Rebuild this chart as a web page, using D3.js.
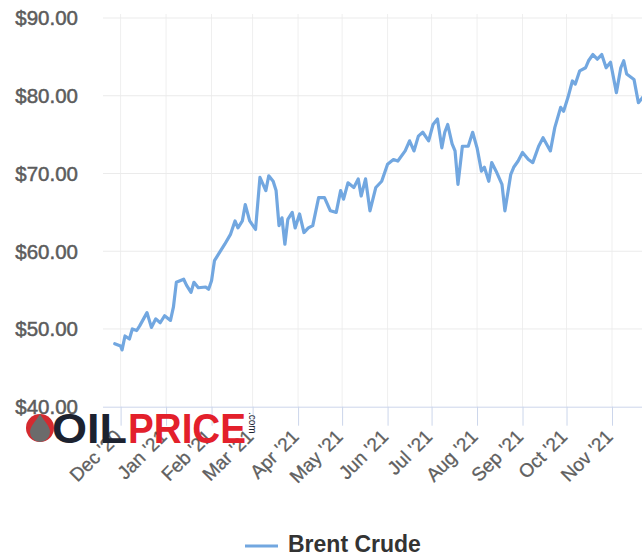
<!DOCTYPE html>
<html>
<head>
<meta charset="utf-8">
<script src="https://cdnjs.cloudflare.com/ajax/libs/d3/7.8.5/d3.min.js"></script>
<style>
  html, body { margin: 0; padding: 0; background: #ffffff; }
  svg { display: block; font-family: "Liberation Sans", Arial, sans-serif; }
</style>
</head>
<body>
<svg id="chart" width="642" height="555"></svg>
<script>
// ---- Data ----
const seriesName = "Brent Crude";
const dates = [
  "2020-11-27","2020-12-01","2020-12-02","2020-12-04","2020-12-07","2020-12-09","2020-12-12","2020-12-14",
  "2020-12-19","2020-12-22","2020-12-25","2020-12-28","2020-12-31","2021-01-04","2021-01-06","2021-01-08",
  "2021-01-13","2021-01-15","2021-01-18","2021-01-20","2021-01-23","2021-01-28","2021-01-30","2021-02-01",
  "2021-02-03","2021-02-10","2021-02-14","2021-02-17","2021-02-19","2021-02-22","2021-02-24","2021-02-27",
  "2021-03-03","2021-03-06","2021-03-10","2021-03-12","2021-03-15","2021-03-17","2021-03-19","2021-03-21",
  "2021-03-23","2021-03-25","2021-03-28","2021-03-30","2021-04-02","2021-04-05","2021-04-08","2021-04-11",
  "2021-04-15","2021-04-19","2021-04-23","2021-04-27","2021-04-30","2021-05-02","2021-05-05","2021-05-09",
  "2021-05-12","2021-05-14","2021-05-17","2021-05-20","2021-05-24","2021-05-28","2021-06-01","2021-06-05",
  "2021-06-08","2021-06-13","2021-06-16","2021-06-19","2021-06-22","2021-06-25","2021-06-29","2021-07-02",
  "2021-07-05","2021-07-08","2021-07-10","2021-07-12","2021-07-15","2021-07-17","2021-07-19","2021-07-22",
  "2021-07-26","2021-07-29","2021-08-01","2021-08-04","2021-08-06","2021-08-09","2021-08-11","2021-08-14",
  "2021-08-18","2021-08-20","2021-08-24","2021-08-26","2021-08-29","2021-09-01","2021-09-05","2021-09-08",
  "2021-09-12","2021-09-15","2021-09-20","2021-09-23","2021-09-27","2021-09-29","2021-10-02","2021-10-05",
  "2021-10-07","2021-10-10","2021-10-14","2021-10-16","2021-10-19","2021-10-22","2021-10-25","2021-10-28",
  "2021-10-31","2021-11-04","2021-11-07","2021-11-09","2021-11-11","2021-11-16","2021-11-19","2021-11-22"
];
const prices = [
  48.1, 47.8, 47.3, 49.1, 48.7, 50.0, 49.8, 50.4,
  52.1, 50.2, 51.3, 50.8, 51.7, 51.1, 52.8, 56.0,
  56.4, 55.6, 54.7, 56.0, 55.3, 55.4, 55.1, 56.2,
  58.8, 60.9, 62.2, 63.9, 63.0, 63.9, 66.0, 63.9,
  62.8, 69.5, 67.8, 69.7, 69.0, 67.8, 63.3, 64.3,
  60.9, 64.1, 65.0, 63.0, 64.8, 62.4, 63.0, 63.3,
  66.9, 66.9, 65.2, 65.0, 67.8, 66.7, 68.8, 68.2,
  69.3, 67.1, 69.3, 65.2, 68.2, 69.0, 71.2, 71.8,
  71.6, 72.9, 74.2, 72.9, 74.8, 75.3, 74.2, 76.3,
  77.0, 73.3, 75.3, 76.3, 73.8, 72.9, 68.6, 73.5,
  73.5, 75.3, 73.3, 70.3, 70.8, 69.0, 71.4, 70.3,
  68.6, 65.2, 69.9, 70.8, 71.6, 72.7, 71.8, 71.4,
  73.5, 74.6, 72.9, 75.9, 78.5, 78.0, 79.8, 81.9,
  81.5, 83.2, 83.6, 84.5, 85.3, 84.7, 85.3, 83.6,
  84.3, 80.4, 83.6, 84.5, 82.8, 82.1, 79.1, 79.8
];
const tickDates = ["2020-12-01","2021-01-01","2021-02-01","2021-03-01","2021-04-01","2021-05-01",
                   "2021-06-01","2021-07-01","2021-08-01","2021-09-01","2021-10-01","2021-11-01"];
const tickLabels = ["Dec '20","Jan '21","Feb '21","Mar '21","Apr '21","May '21",
                    "Jun '21","Jul '21","Aug '21","Sep '21","Oct '21","Nov '21"];
const yTicks = [40, 50, 60, 70, 80, 90];
const yTickLabels = ["$40.00","$50.00","$60.00","$70.00","$80.00","$90.00"];

// ---- Layout ----
const plot = { left: 103, right: 656, top: 18, bottom: 406.7 };
const parse = d3.timeParse("%Y-%m-%d");
const data = dates.map((d, i) => ({ date: parse(d), value: prices[i] }));

const x = d3.scaleTime()
  .domain([parse("2020-11-19"), parse("2021-12-01")])
  .range([plot.left, plot.right]);
const y = d3.scaleLinear().domain([40, 90]).range([plot.bottom, plot.top]);

const svg = d3.select("#chart");

// vertical gridlines
svg.append("g").selectAll("line")
  .data(tickDates).join("line")
  .attr("x1", d => x(parse(d))).attr("x2", d => x(parse(d)))
  .attr("y1", plot.top - 4).attr("y2", plot.bottom)
  .attr("stroke", "#efefef").attr("stroke-width", 1);

// horizontal gridlines
svg.append("g").selectAll("line")
  .data(yTicks.filter(v => v > 40)).join("line")
  .attr("x1", plot.left).attr("x2", plot.right)
  .attr("y1", d => y(d)).attr("y2", d => y(d))
  .attr("stroke", "#ebebeb").attr("stroke-width", 1);

// x axis (line + ticks) via d3.axisBottom
const xAxis = d3.axisBottom(x)
  .tickValues(tickDates.map(parse))
  .tickSize(19)
  .tickFormat("");
const gx = svg.append("g").attr("transform", `translate(0,${plot.bottom})`).call(xAxis);
gx.select(".domain").attr("stroke", "#ccd6eb").attr("d", `M${plot.left},0.5H${plot.right}`);
gx.selectAll(".tick line").attr("stroke", "#ccd6eb");

// x labels rotated
svg.append("g").selectAll("text")
  .data(tickDates).join("text")
  .attr("transform", (d) => `translate(${x(parse(d)) + 2},${plot.bottom + 31}) rotate(-45)`)
  .attr("text-anchor", "end")
  .attr("font-size", 19)
  .attr("fill", "#606060")
  .attr("stroke", "#606060").attr("stroke-width", 0.3)
  .text((d, i) => tickLabels[i]);

// y labels
svg.append("g").selectAll("text")
  .data(yTicks).join("text")
  .attr("x", 78)
  .attr("y", d => y(d))
  .attr("dy", "0.36em")
  .attr("text-anchor", "end")
  .attr("font-size", 20.5)
  .attr("fill", "#5c5c5c")
  .attr("stroke", "#5c5c5c").attr("stroke-width", 0.5)
  .text((d, i) => yTickLabels[i]);

// series line
const line = d3.line().x(d => x(d.date)).y(d => y(d.value)).curve(d3.curveLinear);
svg.append("path")
  .datum(data)
  .attr("d", line)
  .attr("fill", "none")
  .attr("stroke", "#72a7e0")
  .attr("stroke-width", 3.2)
  .attr("stroke-linejoin", "round")
  .attr("stroke-linecap", "round");

// legend
const lg = svg.append("g");
lg.append("line").attr("x1", 245).attr("x2", 278).attr("y1", 546).attr("y2", 546)
  .attr("stroke", "#72a7e0").attr("stroke-width", 3);
lg.append("text").attr("x", 288).attr("y", 552)
  .attr("font-size", 23).attr("font-weight", "bold").attr("fill", "#333333")
  .text(seriesName);

// watermark logo (OILPRICE.com)
const logo = svg.append("g");
logo.append("circle").attr("cx", 40).attr("cy", 428).attr("r", 14).attr("fill", "#d42a2f");
logo.append("path")
  .attr("d", "M40,414 C44,421 50,426 50,432 A10,10 0 0 1 30,432 C30,426 36,421 40,414 Z")
  .attr("fill", "#6b6b6b");
logo.append("text").attr("x", 52).attr("y", 443)
  .attr("font-size", 42).attr("font-weight", "bold").attr("fill", "#1c2230")
  .attr("textLength", 75).attr("lengthAdjust", "spacingAndGlyphs")
  .text("OIL");
logo.append("text").attr("x", 128).attr("y", 443)
  .attr("font-size", 42).attr("font-weight", "bold").attr("fill", "#e3202b")
  .attr("textLength", 118).attr("lengthAdjust", "spacingAndGlyphs")
  .text("PRICE");
logo.append("text")
  .attr("transform", "translate(249,412) rotate(90)")
  .attr("font-size", 10).attr("fill", "#1c2230")
  .text(".com");
</script>
</body>
</html>
